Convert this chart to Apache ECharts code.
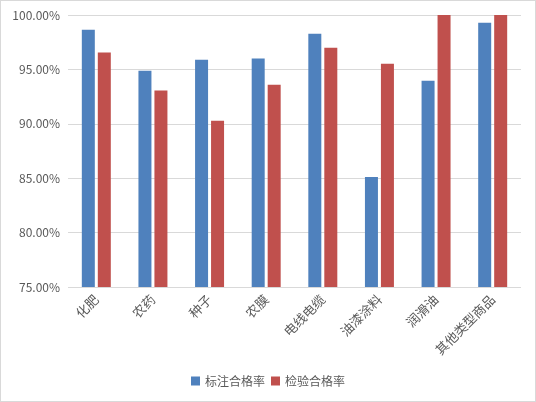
<!DOCTYPE html>
<html>
<head>
<meta charset="utf-8" />
<title>合格率</title>
<script src="https://cdn.jsdelivr.net/npm/echarts@6/dist/echarts.min.js"></script>
<style>
  html, body { margin: 0; padding: 0; background: #fff; }
  #chart { width: 534px; height: 400px; border: 1px solid #d9d9d9; }
</style>
</head>
<body>
<div id="chart"></div>
<script>
  // 类别与数据（百分比）
  var categories = ['化肥', '农药', '种子', '农膜', '电线电缆', '油漆涂料', '润滑油', '其他类型商品'];
  var labelRate = [98.65, 94.88, 95.89, 96.0, 98.28, 85.12, 93.96, 99.29];
  var testRate = [96.56, 93.07, 90.28, 93.59, 97.0, 95.52, 100, 100];
  var seriesNames = ['标注合格率', '检验合格率'];

  var myChart = echarts.init(document.getElementById('chart'));

  var option = {
    animation: false,
    color: ['#4F81BD', '#C0504D'],
    textStyle: { fontFamily: 'Noto Sans CJK SC' },
    legend: {
      data: seriesNames,
      bottom: 9,
      left: 'center',
      itemWidth: 9,
      itemHeight: 9,
      itemGap: 6,
      icon: 'rect',
      textStyle: { color: '#595959', fontSize: 12 }
    },
    grid: {
      left: 67,
      right: 14,
      top: 14,
      bottom: 114
    },
    xAxis: {
      type: 'category',
      data: categories,
      axisLine: { show: false },
      axisTick: { show: false },
      axisLabel: {
        rotate: 45,
        color: '#595959',
        fontSize: 13,
        margin: 10,
        interval: 0
      }
    },
    yAxis: {
      type: 'value',
      min: 75,
      max: 100,
      interval: 5,
      axisLine: { show: false },
      axisTick: { show: false },
      axisLabel: {
        color: '#595959',
        fontSize: 12,
        margin: 8,
        formatter: function (v) { return v.toFixed(2) + '%'; }
      },
      splitLine: { lineStyle: { color: '#d9d9d9', width: 1 } }
    },
    series: [
      {
        name: seriesNames[0],
        type: 'bar',
        data: labelRate,
        barWidth: 13,
        barGap: '23%'
      },
      {
        name: seriesNames[1],
        type: 'bar',
        data: testRate,
        barWidth: 13,
        barGap: '23%'
      }
    ]
  };

  myChart.setOption(option);
</script>
</body>
</html>
